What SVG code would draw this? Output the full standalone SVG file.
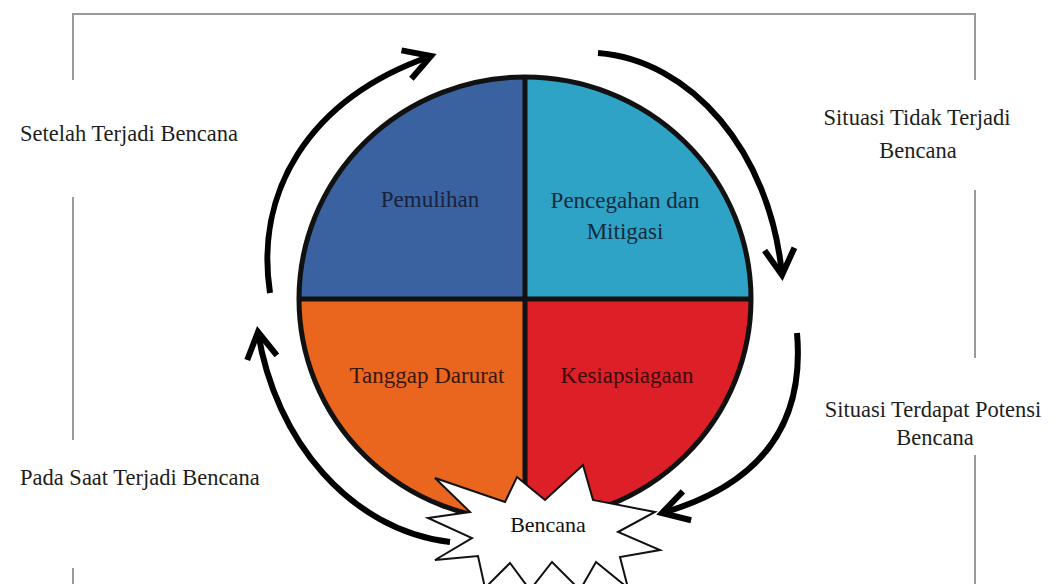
<svg xmlns="http://www.w3.org/2000/svg" width="1057" height="584" viewBox="0 0 1057 584">
  <style>
    .frame { stroke: #9a9a9a; stroke-width: 2; fill: none; }
    .arrow { stroke: #000; stroke-width: 6; fill: none; stroke-linecap: butt; }
    .q { stroke: none; }
    .outline { fill: none; stroke: #111; stroke-width: 5; }
    .divider { stroke: #111; stroke-width: 5; }
    .side { font-family: "Liberation Serif", "Times New Roman", serif; font-size: 22.5px; fill: #1e1e1e; }
    .qlabel { font-family: "Liberation Serif", "Times New Roman", serif; font-size: 23px; text-anchor: middle; }
    .star { fill: #fff; stroke: #111; stroke-width: 2; stroke-linejoin: miter; }
  </style>
  <defs>
    <marker id="chev" markerUnits="userSpaceOnUse" viewBox="-40 -30 60 60" markerWidth="60" markerHeight="60" refX="0" refY="0" orient="auto" overflow="visible">
      <path d="M-26,-15 L0,0 L-26,15" fill="none" stroke="#000" stroke-width="6" stroke-linejoin="miter"/>
    </marker>
  </defs>
  <rect width="1057" height="584" fill="#fff"/>

  <g id="frame">
    <polyline class="frame" points="73,80 73,14 975,14 975,80"/>
    <line class="frame" x1="73" y1="197" x2="73" y2="440"/>
    <line class="frame" x1="73" y1="568" x2="73" y2="584"/>
    <line class="frame" x1="975" y1="190" x2="975" y2="358"/>
    <line class="frame" x1="975" y1="455" x2="975" y2="584"/>
  </g>

  <g id="side-labels">
    <text class="side" x="20" y="141">Setelah Terjadi Bencana</text>
    <text class="side" x="917" y="125" text-anchor="middle">Situasi Tidak Terjadi</text>
    <text class="side" x="918" y="158" text-anchor="middle">Bencana</text>
    <text class="side" x="933" y="417" text-anchor="middle">Situasi Terdapat Potensi</text>
    <text class="side" x="935" y="445" text-anchor="middle">Bencana</text>
    <text class="side" x="20" y="485">Pada Saat Terjadi Bencana</text>
  </g>

  <g id="node-pemulihan">
    <path class="q" fill="#3A62A0" d="M525,299 L299,299 A226,222 0 0 1 525,77 Z"/>
    <text class="qlabel" x="430" y="207" fill="#17223d">Pemulihan</text>
  </g>
  <g id="node-pencegahan">
    <path class="q" fill="#2FA3C5" d="M525,299 L525,77 A226,222 0 0 1 751,299 Z"/>
    <text class="qlabel" x="625" y="208" fill="#142a3d">Pencegahan dan</text>
    <text class="qlabel" x="625" y="239" fill="#142a3d">Mitigasi</text>
  </g>
  <g id="node-kesiapsiagaan">
    <path class="q" fill="#DD1F27" d="M525,299 L751,299 A226,222 0 0 1 525,521 Z"/>
    <text class="qlabel" x="627" y="383" fill="#3d0a0a">Kesiapsiagaan</text>
  </g>
  <g id="node-tanggap">
    <path class="q" fill="#EA661F" d="M525,299 L525,521 A226,222 0 0 1 299,299 Z"/>
    <text class="qlabel" x="427" y="383" fill="#3a160a">Tanggap Darurat</text>
  </g>
  <g id="circle-lines">
    <ellipse class="outline" cx="525" cy="299" rx="226" ry="222"/>
    <line class="divider" x1="299" y1="299" x2="751" y2="299"/>
    <line class="divider" x1="525" y1="77" x2="525" y2="521"/>
  </g>

  <g id="connectors">
    <path class="arrow" d="M270,293 C255,195 305,100 431,56" marker-end="url(#chev)"/>
    <path class="arrow" d="M598,53 C690,60 770,150 782,275" marker-end="url(#chev)"/>
    <path class="arrow" d="M797,333 C805,425 760,485 662,513" marker-end="url(#chev)"/>
    <path class="arrow" d="M450,542 C350,530 275,440 258,332" marker-end="url(#chev)"/>
  </g>

  <g id="node-bencana">
    <polygon class="star" points="435,478 505,502 517,477 545,500 583,465 593,500 655,512 618,532 660,550 620,557 628,588 596,562 580,590 552,562 530,590 510,563 485,588 478,556 435,560 472,538 428,518 470,512"/>
    <text class="qlabel" x="548" y="532" style="font-size:22px" fill="#111">Bencana</text>
  </g>
</svg>
